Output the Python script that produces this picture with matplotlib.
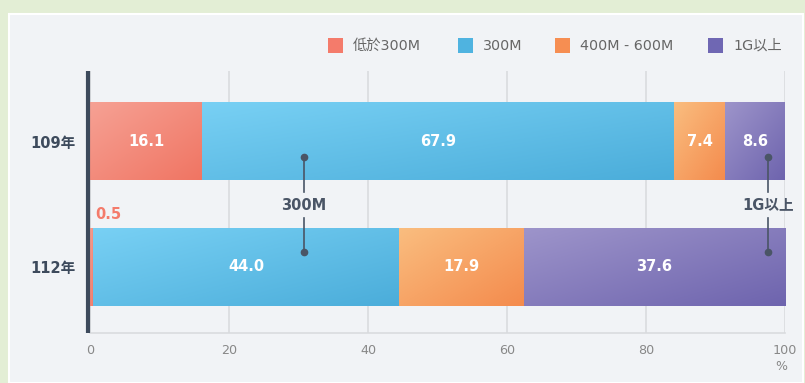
import numpy as np
import matplotlib.pyplot as plt
from matplotlib.colors import LinearSegmentedColormap
from matplotlib.patches import Rectangle

plt.rcParams['font.family'] = ['DejaVu Sans', 'Noto Sans CJK TC']

years = ["109年", "112年"]
series = ["低於300M", "300M", "400M - 600M", "1G以上"]
values = {
    "低於300M": [16.1, 0.5],
    "300M": [67.9, 44.0],
    "400M - 600M": [7.4, 17.9],
    "1G以上": [8.6, 37.6],
}
legend_colors = ["#f47b6b", "#4fb3e0", "#f68e52", "#6f67b3"]
grad_colors = [("#f6a194", "#f07563"), ("#78d0f4", "#4badda"),
               ("#fabd7f", "#f48b4d"), ("#9d94ca", "#6e64ae")]
callouts = [("300M", 30.8), ("1G以上", 97.6)]
xticks = [0, 20, 40, 60, 80, 100]
legend_x = [328, 458, 555, 708]  # pixel left edge of each legend square

W, H = 805, 383
fig = plt.figure(figsize=(W / 100, H / 100), dpi=100, facecolor="#e3eed5")
fig.patches.append(Rectangle((9 / W, 0), 794 / W, 1 - 14 / H,
                             transform=fig.transFigure, facecolor="#f1f3f6",
                             edgecolor="white", linewidth=1.5, zorder=-10))
ax = fig.add_axes([90 / W, 1 - 333 / H, 695 / W, 262 / H])
ax.set_facecolor("none")

# spines first: set_position resets the ticks
for s in ["top", "right"]:
    ax.spines[s].set_visible(False)
ax.spines["bottom"].set_color("#d9dbde")
ax.spines["bottom"].set_linewidth(1.2)
ax.spines["left"].set_color("#3d4a5c")
ax.spines["left"].set_linewidth(3)
ax.spines["left"].set_capstyle("butt")
ax.spines["left"].set_position(("outward", 1.6))
ax.spines["left"].set_zorder(6)

ypos = [1, 0]
grad = np.add.outer(np.linspace(0, 1, 50), np.linspace(0, 1, 100)) / 2
left = np.zeros(len(years))
for name, lc, (c1, c2) in zip(series, legend_colors, grad_colors):
    vals = np.array(values[name])
    bars = ax.barh(ypos, vals, left=left, height=0.614, color=lc, zorder=2)
    cmap = LinearSegmentedColormap.from_list(name, [c1, c2])
    for b in bars:
        x0, y0 = b.get_x(), b.get_y()
        ax.imshow(grad, cmap=cmap, extent=(x0, x0 + b.get_width(), y0, y0 + b.get_height()),
                  origin="upper", aspect="auto", zorder=2.5, interpolation="bilinear")
    for y, v, l in zip(ypos, vals, left):
        if v >= 3:
            ax.text(l + v / 2, y, f"{v:.1f}", ha="center", va="center",
                    color="white", fontsize=10.5, fontweight="bold", zorder=4)
        else:
            ax.text(l + v / 2 + 0.5, y + 0.36, f"{v:.1f}", ha="left", va="bottom",
                    color=lc, fontsize=10.5, fontweight="bold", zorder=4)
    left = left + vals

# callout lines between the two bars
for label, x in callouts:
    ax.plot([x, x], [0.876, 0.6], color="#4a5566", lw=1.2, zorder=5)
    ax.plot([x, x], [0.39, 0.12], color="#4a5566", lw=1.2, zorder=5)
    ax.plot([x, x], [0.876, 0.12], "o", color="#4a5566", ms=4.5, zorder=5)
    ax.text(x, 0.494, label, ha="center", va="center", color="#4a5566",
            fontsize=10.5, fontweight="bold", zorder=5)

ax.set_xlim(0, 100)
ax.set_ylim(-0.526, 1.562)
ax.set_xticks(xticks)
ax.grid(axis="x", color="#d9dbde", lw=1.2, zorder=0)
ax.tick_params(axis="x", length=0, pad=8, labelsize=9.2, labelcolor="#888888")
ax.tick_params(axis="y", length=0, pad=9)
ax.set_yticks(ypos, labels=years, fontsize=10.5, fontweight="bold", color="#3d4a5c")
fig.text(781 / W, 1 - 367 / H, "%", ha="center", va="center",
         fontsize=9, color="#888888")

# legend
for name, lc, px in zip(series, legend_colors, legend_x):
    fig.patches.append(Rectangle((px / W, 1 - 53 / H), 15 / W, 15 / H,
                                 transform=fig.transFigure, facecolor=lc,
                                 edgecolor="none"))
    fig.text((px + 25) / W, 1 - 45.5 / H, name, ha="left", va="center",
             fontsize=10.3, color="#666666")

fig.savefig("out.png", dpi=100, facecolor=fig.get_facecolor())
